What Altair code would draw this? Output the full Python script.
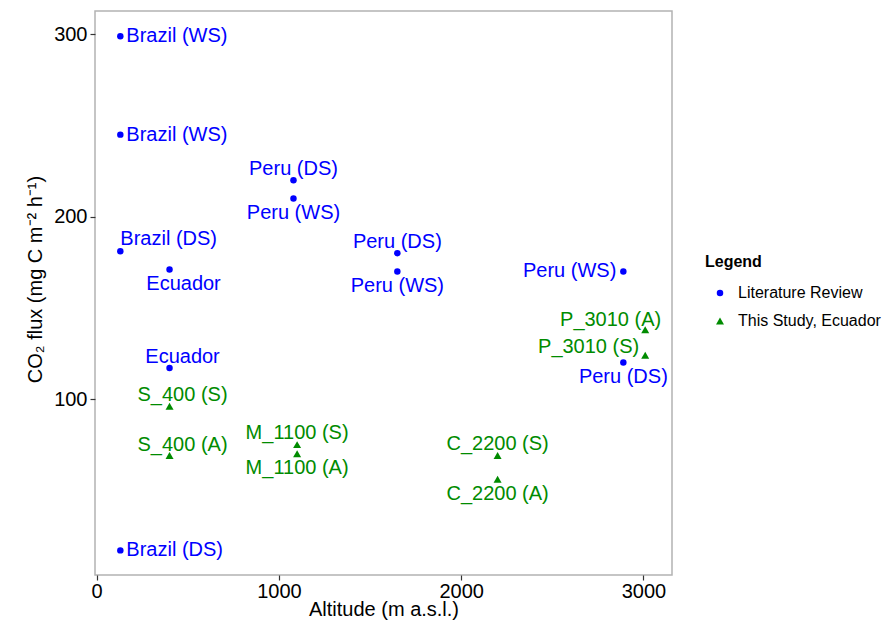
import altair as alt
import pandas as pd

# Literature review
lit_altitude = [130, 130, 130, 400, 1080, 1080, 1650, 1650, 2890, 2890, 400, 130]
lit_flux = [299, 245, 181, 171, 220, 210, 180, 170, 170, 120, 117, 17]
lit_labels = ["Brazil (WS)", "Brazil (WS)", "Brazil (DS)", "Ecuador", "Peru (DS)", "Peru (WS)",
              "Peru (DS)", "Peru (WS)", "Peru (WS)", "Peru (DS)", "Ecuador", "Brazil (DS)"]
lit_place = ["right", "right", "above_start", "below_shift", "above", "below",
             "above", "below", "left", "below", "above_shift", "right"]

# This study, Ecuador
study_altitude = [400, 400, 1100, 1100, 2200, 2200, 3010, 3010]
study_flux = [96, 69, 75, 70, 69, 56, 138, 124]
study_labels = ["S_400 (S)", "S_400 (A)", "M_1100 (S)", "M_1100 (A)",
                "C_2200 (S)", "C_2200 (A)", "P_3010 (A)", "P_3010 (S)"]
study_place = ["above_shift", "above_shift", "above", "below",
               "above", "below", "above_end", "upper_left"]

groups = ["Literature Review", "This Study, Ecuador"]

df = pd.concat([
    pd.DataFrame({"alt": lit_altitude, "flux": lit_flux, "label": lit_labels,
                  "place": lit_place, "group": groups[0]}),
    pd.DataFrame({"alt": study_altitude, "flux": study_flux, "label": study_labels,
                  "place": study_place, "group": groups[1]}),
], ignore_index=True)

FONT = "Liberation Sans"
colors = ["#0000FF", "#008B00"]

xs = alt.X("alt:Q", scale=alt.Scale(domain=[-9, 3157], nice=False, zero=False),
           axis=alt.Axis(values=[0, 1000, 2000, 3000], title="Altitude (m a.s.l.)",
                         format="d", grid=False, domain=False, tickColor="#333333",
                         tickSize=5, tickWidth=1.2, labelFontSize=20, labelColor="#000000",
                         labelPadding=1, labelFont=FONT, titleFont=FONT, titleFontSize=20,
                         titleFontWeight="normal", titleColor="#000000", titlePadding=-2))
ys = alt.Y("flux:Q", scale=alt.Scale(domain=[3.5, 312.8], nice=False, zero=False),
           axis=alt.Axis(values=[100, 200, 300], title="CO₂ flux (mg C m⁻² h⁻¹)",
                         grid=False, domain=False, tickColor="#333333", tickSize=5,
                         tickWidth=1.2, labelFontSize=20, labelColor="#000000",
                         labelPadding=3, labelFont=FONT, titleFont=FONT, titleFontSize=20,
                         titleFontWeight="normal", titleColor="#000000",
                         titleX=-50, titleY=268))

color = alt.Color("group:N", scale=alt.Scale(domain=groups, range=colors),
                  legend=alt.Legend(title="Legend", orient="none", legendX=610, legendY=243,
                                    titleFont=FONT, titleFontSize=16, titleFontWeight="bold",
                                    titleColor="#000000", labelFont=FONT, labelFontSize=16,
                                    labelColor="#000000", symbolOffset=7, labelOffset=10,
                                    rowPadding=12, symbolSize=45, titlePadding=15))
shape = alt.Shape("group:N", scale=alt.Scale(domain=groups, range=["circle", "triangle-up"]))
size = alt.Size("group:N", scale=alt.Scale(domain=groups, range=[42, 64]), legend=None)

base = alt.Chart(df)
points = base.mark_point(filled=True, opacity=1).encode(x=xs, y=ys, color=color,
                                                         shape=shape, size=size)

styles = {
    "right": ("left", 6, 0),
    "left": ("right", -7, 0),
    "above": ("center", 0, -11.5),
    "below": ("center", 0, 14.5),
    "above_start": ("left", 0, -12),
    "above_shift": ("center", 13, -11),
    "below_shift": ("center", 14, 14),
    "above_end": ("right", 16, -10),
    "upper_left": ("right", -6, -8),
}

layers = [points]
for key, (al, dx, dy) in styles.items():
    layers.append(
        base.transform_filter(alt.datum.place == key).mark_text(
            align=al, baseline="middle", dx=dx, dy=dy, font=FONT, fontSize=20
        ).encode(x="alt:Q", y="flux:Q", text="label:N",
                 color=alt.Color("group:N", scale=alt.Scale(domain=groups, range=colors),
                                 legend=None))
    )

chart = alt.layer(*layers).properties(
    width=577, height=564,
    autosize=alt.AutoSizeParams(type="none"),
    padding={"left": 95, "top": 11, "right": 216, "bottom": 45},
    background="white",
).configure_view(stroke="#b3b3b3", strokeWidth=1.5)

chart.save("out.html", embed_options={"renderer": "svg", "actions": False})
